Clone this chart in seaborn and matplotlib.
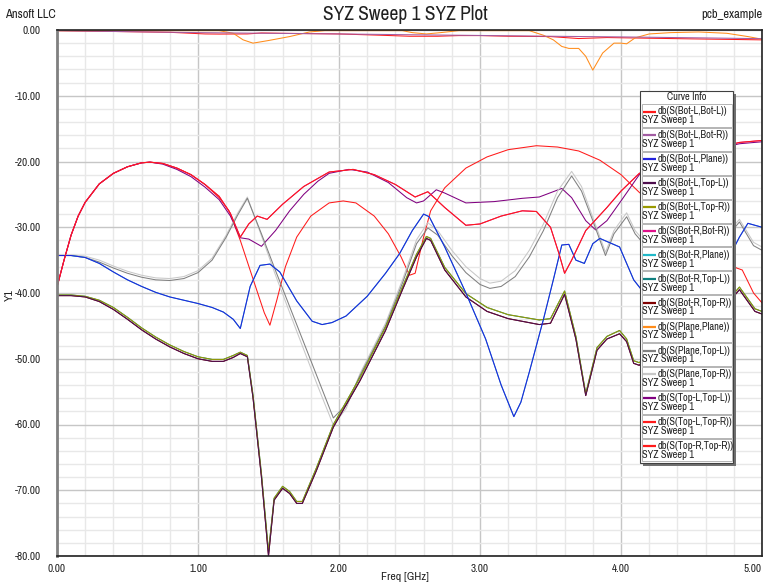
import numpy as np
import pandas as pd
import matplotlib
matplotlib.use("Agg")
import matplotlib.pyplot as plt
from matplotlib.patches import Rectangle
from matplotlib.ticker import MultipleLocator, FormatStrFormatter
from matplotlib import font_manager as fm
import seaborn as sns

sns.set_style("white")
avail = {f.name for f in fm.fontManager.ttflist}
FAM = next((n for n in ["Liberation Sans Narrow", "Archivo Narrow", "Roboto Condensed",
                        "PT Sans Narrow", "Liberation Sans"] if n in avail), "DejaVu Sans")
plt.rcParams["font.family"] = [FAM, "DejaVu Sans"]
plt.rcParams["axes.unicode_minus"] = False

# ---------------- data ----------------
labels = ["Bot-L,Bot-L", "Bot-L,Bot-R", "Bot-L,Plane", "Bot-L,Top-L", "Bot-L,Top-R",
          "Bot-R,Bot-R", "Bot-R,Plane", "Bot-R,Top-L", "Bot-R,Top-R", "Plane,Plane",
          "Plane,Top-L", "Plane,Top-R", "Top-L,Top-L", "Top-L,Top-R", "Top-R,Top-R"]
colors = ["#ff1a1a", "#a25ca2", "#2222dd", "#4e0e4e", "#9a9a00",
          "#e0108a", "#20b8c8", "#108080", "#800000", "#ff8c1a",
          "#808080", "#c8c8c8", "#800080", "#ff1a1a", "#ff1a1a"]
x_ticks = [0, 1, 2, 3, 4, 5]

# reflection Bot-L,Bot-L
refl_a_f = [0, 0.05, 0.1, 0.15, 0.2, 0.3, 0.4, 0.5, 0.6, 0.66, 0.75, 0.85, 0.95, 1.05, 1.15, 1.23,
            1.30, 1.36, 1.42, 1.49, 1.60, 1.75, 1.93, 2.10, 2.25, 2.40, 2.54, 2.63, 2.75, 2.90,
            3.00, 3.15, 3.30, 3.40, 3.50, 3.56, 3.60, 3.65, 3.75, 3.90, 4.00, 4.13, 4.40, 4.70,
            4.84, 5.00]
refl_a_db = [-39.1, -35.0, -31.2, -28.3, -26.2, -23.4, -21.8, -20.8, -20.2, -20.1, -20.3, -21.0,
             -22.0, -23.5, -25.3, -27.9, -31.5, -29.5, -28.3, -28.8, -26.5, -23.8, -21.6, -21.2,
             -22.0, -23.5, -25.4, -24.6, -27.0, -29.7, -29.5, -28.3, -27.5, -27.6, -30.0, -34.0,
             -37.0, -35.0, -30.5, -27.0, -24.5, -21.8, -19.6, -17.8, -17.1, -16.8]

# reflection Top-L,Top-L
refl_p_f = [0, 0.05, 0.1, 0.15, 0.2, 0.3, 0.4, 0.5, 0.6, 0.66, 0.75, 0.85, 0.95, 1.05, 1.15, 1.23,
            1.30, 1.36, 1.45, 1.55, 1.65, 1.75, 1.85, 1.93, 2.07, 2.20, 2.35, 2.48, 2.55, 2.60,
            2.69, 2.75, 2.90, 3.10, 3.30, 3.42, 3.58, 3.65, 3.75, 3.82, 3.90, 4.00, 4.13, 4.40,
            4.70, 4.84, 5.00]
refl_p_db = [-39.1, -35.0, -31.2, -28.3, -26.2, -23.4, -21.8, -20.8, -20.2, -20.1, -20.4, -21.2,
             -22.3, -23.9, -25.8, -28.3, -31.6, -31.8, -32.9, -30.5, -27.5, -25.0, -23.0, -21.8,
             -21.2, -21.6, -23.2, -25.5, -26.3, -26.0, -24.3, -24.8, -26.3, -26.1, -25.6, -25.4,
             -24.1, -25.5, -29.0, -30.4, -29.0, -26.0, -22.0, -19.8, -18.0, -17.3, -17.0]

# reflection Top-R,Top-R
refl_b_f = [0, 0.05, 0.1, 0.15, 0.2, 0.3, 0.4, 0.5, 0.6, 0.66, 0.75, 0.85, 0.95, 1.05, 1.15, 1.22,
            1.30, 1.40, 1.47, 1.51, 1.56, 1.62, 1.70, 1.80, 1.93, 2.03, 2.12, 2.25, 2.35, 2.44,
            2.50, 2.54, 2.60, 2.65, 2.75, 2.90, 3.05, 3.20, 3.40, 3.55, 3.70, 3.85, 4.00, 4.13,
            4.30, 4.50, 4.70, 4.82, 4.86, 4.94, 5.00]
refl_b_db = [-39.1, -35.0, -31.2, -28.3, -26.2, -23.4, -21.8, -20.8, -20.2, -20.1, -20.3, -21.0,
             -22.0, -23.5, -25.5, -27.5, -32.0, -38.5, -43.0, -44.9, -41.0, -36.0, -31.5, -28.3,
             -26.3, -26.0, -26.3, -28.3, -31.0, -34.5, -37.3, -37.0, -31.5, -27.5, -24.0, -21.0,
             -19.3, -18.2, -17.6, -17.8, -18.4, -19.8, -22.0, -24.7, -27.5, -31.0, -34.5, -36.2,
             -36.5, -40.0, -41.5]

# plane coupling Bot-L,Plane
plane_f = [0, 0.10, 0.20, 0.30, 0.40, 0.50, 0.60, 0.70, 0.80, 0.90, 1.00, 1.10, 1.18, 1.25, 1.30,
           1.37, 1.44, 1.51, 1.58, 1.70, 1.81, 1.88, 1.95, 2.05, 2.20, 2.33, 2.43, 2.52, 2.60,
           2.64, 2.75, 2.90, 3.04, 3.15, 3.24, 3.29, 3.35, 3.45, 3.52, 3.58, 3.63, 3.68, 3.74,
           3.80, 3.85, 3.99, 4.09, 4.20, 4.40, 4.60, 4.78, 4.84, 4.90, 5.00]
plane_db = [-34.3, -34.3, -34.6, -35.5, -36.8, -38.0, -39.0, -39.9, -40.6, -41.1, -41.6, -42.2,
            -42.9, -44.0, -45.4, -39.0, -35.8, -35.6, -36.8, -41.2, -44.3, -44.8, -44.5, -43.5,
            -40.5, -37.0, -34.0, -30.5, -28.0, -28.4, -33.0, -40.0, -47.0, -54.0, -58.8, -56.6,
            -52.0, -44.0, -38.0, -32.7, -32.6, -35.0, -35.5, -32.5, -31.7, -33.0, -38.0, -41.0,
            -42.0, -39.0, -34.0, -31.5, -29.4, -30.0]

# plane coupling Plane,Top-L / Plane,Top-R
gray_f = [0, 0.10, 0.20, 0.30, 0.40, 0.50, 0.60, 0.70, 0.80, 0.90, 1.00, 1.10, 1.20, 1.28, 1.35,
          1.45, 1.55, 1.70, 1.85, 1.96, 2.05, 2.15, 2.33, 2.45, 2.55, 2.63, 2.70, 2.80, 2.90,
          3.00, 3.07, 3.15, 3.25, 3.35, 3.45, 3.55, 3.65, 3.72, 3.80, 3.89, 3.95, 4.04, 4.10,
          4.20, 4.40, 4.60, 4.75, 4.84, 4.94, 5.00]
gray_tl_db = [-34.3, -34.3, -34.6, -35.3, -36.2, -37.0, -37.6, -38.0, -38.1, -37.8, -36.9, -35.0,
              -31.5, -28.2, -25.6, -31.0, -36.6, -44.8, -53.0, -59.0, -57.0, -52.5, -45.0, -38.5,
              -32.5, -30.1, -31.2, -34.3, -36.9, -38.7, -39.3, -39.0, -37.5, -34.5, -30.5, -25.5,
              -22.2, -24.5, -29.0, -34.3, -31.0, -28.4, -31.0, -33.5, -34.5, -33.5, -31.5, -29.2,
              -32.8, -33.5]
gray_tr_db = [-34.2, -34.2, -34.4, -35.0, -35.9, -36.7, -37.3, -37.7, -37.8, -37.5, -36.6, -34.7,
              -31.2, -27.9, -25.4, -31.3, -37.3, -45.8, -54.2, -60.1, -57.6, -52.2, -44.6, -38.0,
              -31.9, -29.3, -30.5, -33.5, -36.0, -37.8, -38.5, -38.2, -36.6, -33.5, -29.5, -24.5,
              -21.5, -23.8, -28.5, -33.8, -30.5, -27.8, -30.5, -33.0, -34.0, -33.0, -31.0, -28.8,
              -32.3, -33.0]

# crosstalk Bot-L,Top-L / Bot-L,Top-R
xt_f = [0, 0.10, 0.20, 0.30, 0.40, 0.50, 0.60, 0.70, 0.80, 0.90, 1.00, 1.10, 1.18, 1.25, 1.30,
        1.35, 1.39, 1.45, 1.50, 1.54, 1.60, 1.65, 1.70, 1.74, 1.84, 1.96, 2.15, 2.33, 2.45, 2.55,
        2.62, 2.65, 2.75, 2.90, 3.05, 3.20, 3.42, 3.50, 3.60, 3.68, 3.75, 3.83, 3.90, 3.99, 4.04,
        4.09, 4.13, 4.30, 4.50, 4.70, 4.78, 4.84, 4.95, 5.00]
xt_tl_db = [-40.4, -40.4, -40.6, -41.3, -42.5, -44.0, -45.6, -47.0, -48.2, -49.2, -50.0, -50.4,
            -50.4, -49.8, -49.2, -49.7, -55.9, -68.0, -80.0, -71.5, -69.7, -70.5, -72.0, -72.0,
            -67.0, -60.4, -53.3, -45.7, -39.5, -34.5, -31.7, -32.0, -36.5, -40.6, -42.8, -43.9,
            -44.8, -44.6, -40.2, -47.0, -55.6, -48.7, -47.0, -46.2, -47.4, -50.7, -51.0, -47.0,
            -44.0, -41.5, -41.0, -39.5, -42.8, -43.2]
xt_tr_db = [-40.3, -40.3, -40.5, -41.1, -42.2, -43.7, -45.3, -46.7, -47.9, -48.9, -49.7, -50.1,
            -50.1, -49.5, -49.0, -49.5, -55.5, -67.5, -79.3, -71.2, -69.4, -70.2, -71.7, -71.7,
            -66.6, -60.0, -52.8, -45.2, -39.1, -34.1, -31.4, -31.7, -36.1, -40.1, -42.2, -43.3,
            -44.1, -43.9, -39.7, -46.6, -55.3, -48.3, -46.6, -45.7, -47.0, -50.3, -50.6, -46.6,
            -43.6, -41.1, -40.6, -39.1, -42.4, -42.8]

# through Bot-L,Bot-R
thru_b_f = [0, 0.5, 1.0, 1.5, 2.0, 2.5, 3.0, 3.5, 4.0, 4.5, 5.0]
thru_b_db = [-0.1, -0.25, -0.4, -0.5, -0.6, -0.72, -0.83, -0.95, -1.05, -1.18, -1.32]

# through Top-L,Top-R
thru_t_f = [0, 0.8, 1.05, 1.15, 1.35, 1.45, 1.6, 2.0, 2.3, 2.5, 2.7, 2.85, 3.0, 3.2, 3.5, 3.7,
            3.9, 4.2, 4.5, 5.0]
thru_t_db = [-0.1, -0.35, -0.6, -0.62, -0.6, -0.45, -0.5, -0.6, -0.8, -0.95, -0.95, -0.85, -0.85,
             -0.95, -1.0, -1.3, -1.15, -1.25, -1.35, -1.5]

# Plane,Plane
pp_f = [0, 0.30, 1.15, 1.25, 1.32, 1.39, 1.50, 1.65, 1.79, 1.90, 2.45, 2.52, 2.62, 2.72, 2.85,
        3.35, 3.45, 3.52, 3.58, 3.63, 3.70, 3.75, 3.80, 3.87, 3.95, 4.00, 4.04, 4.10, 4.20, 4.35,
        4.55, 4.75, 4.90, 5.00]
pp_db = [-0.1, -0.1, -0.1, -0.5, -1.5, -2.0, -1.6, -1.0, -0.3, -0.1, -0.1, -0.4, -0.6, -0.4,
         -0.1, -0.1, -0.8, -1.5, -2.5, -2.8, -2.8, -4.0, -6.1, -3.5, -2.0, -2.0, -2.1, -1.2,
         -0.6, -0.4, -0.3, -0.5, -1.0, -1.4]

series = {
    "Bot-L,Bot-L": (refl_a_f, refl_a_db),
    "Bot-L,Bot-R": (thru_b_f, thru_b_db),
    "Bot-L,Plane": (plane_f, plane_db),
    "Bot-L,Top-L": (xt_f, xt_tl_db),
    "Bot-L,Top-R": (xt_f, xt_tr_db),
    "Bot-R,Bot-R": (refl_a_f, refl_a_db),
    "Bot-R,Plane": (plane_f, plane_db),
    "Bot-R,Top-L": (xt_f, xt_tr_db),
    "Bot-R,Top-R": (xt_f, xt_tl_db),
    "Plane,Plane": (pp_f, pp_db),
    "Plane,Top-L": (gray_f, gray_tl_db),
    "Plane,Top-R": (gray_f, gray_tr_db),
    "Top-L,Top-L": (refl_p_f, refl_p_db),
    "Top-L,Top-R": (thru_t_f, thru_t_db),
    "Top-R,Top-R": (refl_b_f, refl_b_db),
}

rows = []
for name in labels:
    f, d = series[name]
    rows.append(pd.DataFrame({"freq": f, "db": d, "curve": name}))
df = pd.concat(rows, ignore_index=True)
palette = dict(zip(labels, colors))

# ---------------- figure ----------------
W, H = 764, 587
fig = plt.figure(figsize=(W / 100, H / 100), dpi=100)
ax = fig.add_axes([57 / W, 1 - 556 / H, 705 / W, 526 / H])

sns.lineplot(data=df, x="freq", y="db", hue="curve", hue_order=labels[::-1],
             palette=palette, estimator=None, sort=False, legend=False,
             linewidth=0.75, ax=ax)

ax.set_xlim(0, 5)
ax.set_ylim(-80, 0)
ax.set_xticks(x_ticks)
ax.xaxis.set_minor_locator(MultipleLocator(0.2))
ax.yaxis.set_major_locator(MultipleLocator(10))
ax.yaxis.set_minor_locator(MultipleLocator(2))
ax.xaxis.set_major_formatter(FormatStrFormatter("%.2f"))
ax.yaxis.set_major_formatter(FormatStrFormatter("%.2f"))
ax.set_axisbelow(True)
ax.grid(which="major", color="#c6c6c6", linewidth=1.0)
ax.grid(which="minor", color="#e8e8e8", linewidth=1.0)

ax.tick_params(axis="y", which="major", length=8.6, width=1, color="#303030",
               labelsize=8, pad=3, labelcolor="#202020")
ax.tick_params(axis="y", which="minor", length=3.6, width=1, color="#303030")
ax.tick_params(axis="x", which="both", length=3.6, width=1, color="#303030",
               labelsize=8, pad=2, labelcolor="#202020")

for s in ["top", "right", "bottom"]:
    ax.spines[s].set_color("#202020")
    ax.spines[s].set_linewidth(1.2)
ax.spines["left"].set_color("#808080")
ax.spines["left"].set_linewidth(2.0)

ax.set_xlabel("Freq [GHz]", fontsize=8.5, color="#202020")
ax.set_ylabel("Y1", fontsize=8.5, color="#202020")
ax.xaxis.set_label_coords((405 - 57) / 705, (556 - 577) / 526)
ax.xaxis.label.set_va("center")
ax.yaxis.set_label_coords((10 - 57) / 705, (556 - 295) / 526)
ax.yaxis.label.set_va("center")

fig.text(405 / W, 1 - 15 / H, "SYZ Sweep 1 SYZ Plot", ha="center", va="center",
         fontsize=14, color="#202020")
fig.text(5 / W, 1 - 15 / H, "Ansoft LLC", ha="left", va="center", fontsize=9, color="#202020")
fig.text(762 / W, 1 - 15 / H, "pcb_example", ha="right", va="center", fontsize=9,
         color="#202020")

# ---------------- legend (Curve Info box) ----------------
ov = fig.add_axes([0, 0, 1, 1], zorder=10)
ov.set_xlim(0, W)
ov.set_ylim(H, 0)
ov.axis("off")
ov.patch.set_alpha(0)
box_l, box_t, box_w, box_h = 640, 91, 93, 372
ov.add_patch(Rectangle((box_l + 2.5, box_t + 2.5), box_w, box_h, fc="#707070", ec="none"))
ov.add_patch(Rectangle((box_l, box_t), box_w, box_h, fc="white", ec="#404040", lw=0.8))
ov.text(box_l + box_w / 2, box_t + 6.5, "Curve Info", ha="center", va="center",
        fontsize=7.5, color="#202020")
step = 23.9
for i, (name, col) in enumerate(zip(labels, colors)):
    top = 104 + i * step
    ov.add_patch(Rectangle((box_l + 1.5, top), box_w - 3, step - 1, fc="white",
                           ec="#b4b4b4", lw=0.7))
    ov.plot([643, 656], [top + 7.5, top + 7.5], color=col, lw=1.6, solid_capstyle="butt")
    ov.text(658, top + 7.5, f"db(S({name}))", ha="left", va="center", fontsize=7.5,
            color="#202020")
    ov.text(642.5, top + 16.3, "SYZ Sweep 1", ha="left", va="center", fontsize=7.5,
            color="#202020")

fig.canvas.draw()
xl = ax.get_xticklabels()
xl[-1].set_horizontalalignment("right")
xl[-1].set_x(5.0)

fig.savefig("out.png", dpi=100)
